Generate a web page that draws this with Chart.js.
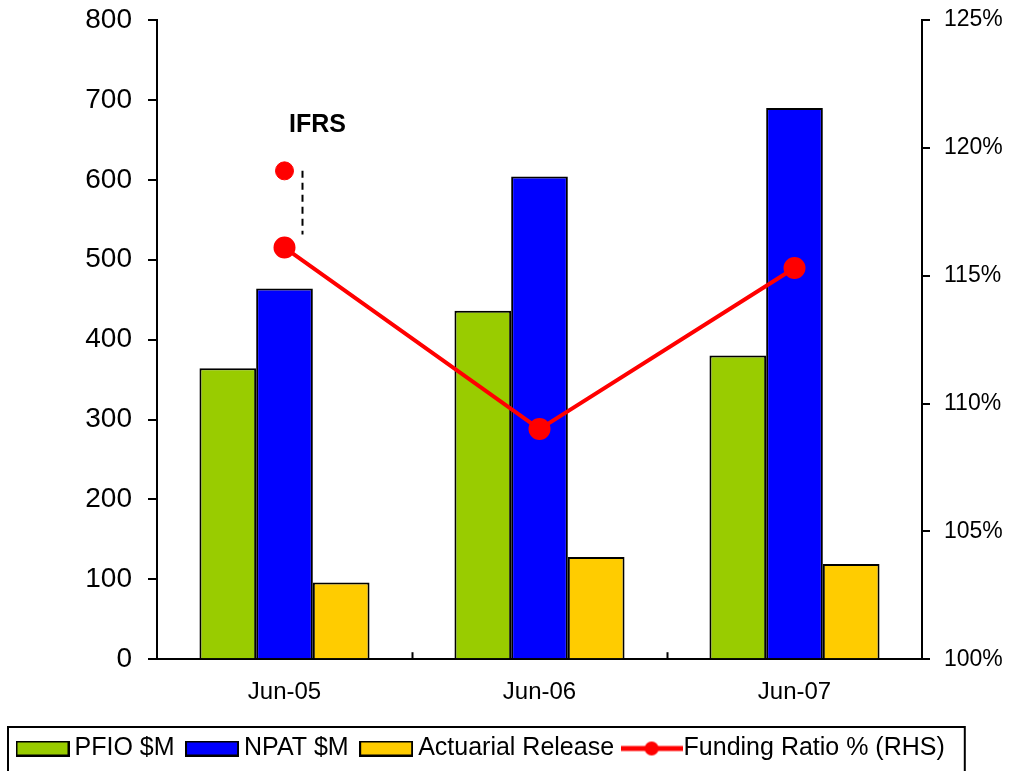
<!DOCTYPE html>
<html>
<head>
<meta charset="utf-8">
<script src="https://cdn.jsdelivr.net/npm/chart.js@4.4.0/dist/chart.umd.min.js"></script>
<style>
  html, body { margin: 0; padding: 0; background: #fff; }
  #wrap { width: 1010px; height: 771px; }
</style>
</head>
<body>
<div id="wrap"><canvas id="chart"></canvas></div>
<script>
// data
const periods = ["Jun-05", "Jun-06", "Jun-07"];
const pfio = [364, 436, 380];
const npat = [464, 604, 690];
const actuarialRelease = [96, 128, 119];
const fundingRatio = [116.1, 109.0, 115.3];
const ifrsRatio = [119.1, null, null];
const leftTicks = [0, 100, 200, 300, 400, 500, 600, 700, 800];
const rightTicks = [100, 105, 110, 115, 120, 125];

const FONT = "'Liberation Sans', Arial, sans-serif";

// legend swatches
function boxSwatch(color) {
    const c = document.createElement("canvas");
    c.width = 54; c.height = 16;
    const g = c.getContext("2d");
    g.fillStyle = color;
    g.fillRect(1, 1, 52, 14);
    g.strokeStyle = "#000";
    g.lineWidth = 2;
    g.strokeRect(1, 1, 52, 14);
    return c;
}
function lineSwatch() {
    const c = document.createElement("canvas");
    c.width = 62; c.height = 18;
    const g = c.getContext("2d");
    g.strokeStyle = "#ff0000";
    g.lineWidth = 5;
    g.beginPath(); g.moveTo(0, 9); g.lineTo(62, 9); g.stroke();
    g.fillStyle = "#ff0000";
    g.beginPath(); g.arc(31, 9, 7, 0, Math.PI * 2); g.fill();
    return c;
}

// dashed connector, IFRS label, inner x ticks, legend frame
const extras = {
    id: "extras",
    afterDatasetsDraw(chart) {
        const ctx = chart.ctx;
        const x = chart.scales.x, yR = chart.scales.yR;
        const xi = x.getPixelForValue(0) + 18;
        ctx.save();
        ctx.strokeStyle = "#000";
        ctx.lineWidth = 2;
        ctx.setLineDash([7, 5]);
        ctx.beginPath();
        ctx.moveTo(xi, yR.getPixelForValue(ifrsRatio[0]));
        ctx.lineTo(xi, yR.getPixelForValue(fundingRatio[0]) - 13);
        ctx.stroke();
        ctx.setLineDash([]);
        ctx.fillStyle = "#000";
        ctx.font = "bold 25px " + FONT;
        ctx.textAlign = "center";
        ctx.textBaseline = "middle";
        ctx.fillText("IFRS", x.getPixelForValue(0) + 33, yR.getPixelForValue(ifrsRatio[0]) - 46);
        // small inner ticks between categories
        const half = (x.getPixelForValue(1) - x.getPixelForValue(0)) / 2;
        const b = chart.chartArea.bottom;
        for (let i = 0; i < periods.length - 1; i++) {
            const px = Math.round(x.getPixelForValue(i) + half) + 0.5;
            ctx.beginPath(); ctx.moveTo(px, b); ctx.lineTo(px, b - 7); ctx.stroke();
        }
        ctx.restore();
    },
    afterDraw(chart) {
        const boxes = chart.legend.legendHitBoxes;
        if (!boxes || !boxes.length) return;
        const l = Math.min(...boxes.map(h => h.left)) - 15;
        const r = Math.max(...boxes.map(h => h.left + h.width)) + 20;
        const t = Math.min(...boxes.map(h => h.top)) - 9;
        const ctx = chart.ctx;
        ctx.save();
        ctx.strokeStyle = "#000";
        ctx.lineWidth = 2;
        ctx.strokeRect(l, t, r - l, chart.height - t + 10);
        ctx.restore();
    }
};

const swatches = [boxSwatch("#99cc00"), boxSwatch("#0000ff"), boxSwatch("#ffcc00"), lineSwatch()];
const legendNames = ["PFIO $M", "NPAT $M", "Actuarial Release", "Funding Ratio % (RHS)"];

new Chart(document.getElementById("chart"), {
    type: "bar",
    data: {
        labels: periods,
        datasets: [
            {
                type: "line",
                label: "Funding Ratio % (RHS)",
                data: fundingRatio,
                yAxisID: "yR",
                borderColor: "#ff0000",
                backgroundColor: "#ff0000",
                borderWidth: 4,
                pointRadius: 9,
                pointHoverRadius: 9,
                tension: 0,
                order: 0
            },
            {
                type: "line",
                label: "IFRS",
                data: ifrsRatio,
                yAxisID: "yR",
                showLine: false,
                borderColor: "#ff0000",
                backgroundColor: "#ff0000",
                pointRadius: 9,
                pointHoverRadius: 9,
                order: 0
            },
            {
                label: "PFIO $M",
                data: pfio,
                yAxisID: "y",
                backgroundColor: "#99cc00",
                borderColor: "#000",
                borderWidth: 2,
                order: 1
            },
            {
                label: "NPAT $M",
                data: npat,
                yAxisID: "y",
                backgroundColor: "#0000ff",
                borderColor: "#000",
                borderWidth: 2,
                order: 1
            },
            {
                label: "Actuarial Release",
                data: actuarialRelease,
                yAxisID: "y",
                backgroundColor: "#ffcc00",
                borderColor: "#000",
                borderWidth: 2,
                order: 1
            }
        ]
    },
    options: {
        responsive: true,
        maintainAspectRatio: false,
        animation: false,
        categoryPercentage: 0.667,
        barPercentage: 1,
        layout: { padding: { top: 20, left: 5, right: 0, bottom: 0 } },
        plugins: {
            tooltip: { enabled: false },
            legend: {
                position: "bottom",
                align: "start",
                labels: {
                    usePointStyle: true,
                    pointStyleWidth: 39,
                    padding: 18,
                    color: "#000",
                    font: { family: FONT, size: 25 },
                    generateLabels() {
                        return legendNames.map((n, i) => ({
                            text: n,
                            pointStyle: swatches[i],
                            fillStyle: "transparent",
                            strokeStyle: "transparent",
                            lineWidth: 0,
                            datasetIndex: i
                        }));
                    }
                },
                onClick() {}
            }
        },
        scales: {
            x: {
                grid: { display: false },
                border: { display: true, color: "#000", width: 2 },
                ticks: { color: "#000", font: { family: FONT, size: 24 }, padding: 11 }
            },
            y: {
                position: "left",
                min: 0,
                max: 800,
                afterBuildTicks(s) { s.ticks = leftTicks.map(v => ({ value: v })); },
                afterFit(s) { s.width = 152; s.paddingTop = 0; s.paddingBottom = 0; },
                grid: { drawOnChartArea: false, drawTicks: true, tickLength: 9, color: "#000", lineWidth: 2 },
                border: { display: true, color: "#000", width: 2 },
                ticks: { color: "#000", font: { family: FONT, size: 28 }, padding: 16 }
            },
            yR: {
                position: "right",
                min: 100,
                max: 125,
                afterBuildTicks(s) { s.ticks = rightTicks.map(v => ({ value: v })); },
                afterFit(s) { s.width = 88; s.paddingTop = 0; s.paddingBottom = 0; },
                grid: { drawOnChartArea: false, drawTicks: true, tickLength: 8, color: "#000", lineWidth: 2 },
                border: { display: true, color: "#000", width: 2 },
                ticks: {
                    color: "#000",
                    font: { family: FONT, size: 23 },
                    padding: 14,
                    callback: v => v + "%"
                }
            }
        }
    },
    plugins: [extras]
});
</script>
</body>
</html>
